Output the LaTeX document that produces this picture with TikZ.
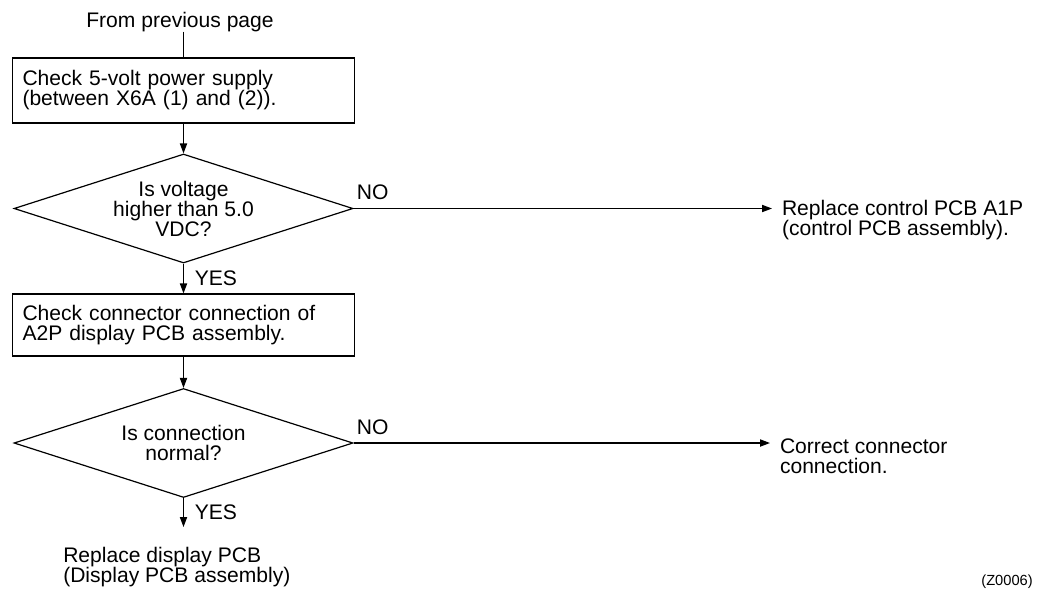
\documentclass[tikz,border=0pt]{standalone}
\usepackage{fontspec}
\setmainfont{Liberation Sans}
\usetikzlibrary{shapes.geometric, arrows.meta, positioning}

\begin{document}
\begin{tikzpicture}[
  x=0.75pt, y=-0.75pt,
  every node/.style={font=\fontsize{15.8pt}{15pt}\selectfont, inner sep=0pt},
  line/.style={line width=0.9pt},
  arrow/.style={line width=0.9pt, -{Triangle[length=7.5pt, width=5.4pt]}},
  stepbox/.style={rectangle, draw, line width=0.9pt, minimum width=256.5pt, text width=241.5pt, inner xsep=7.5pt, align=left},
  decision/.style={diamond, draw, line width=0.9pt, minimum width=254.25pt, minimum height=81.75pt, aspect=3.1, align=center},
  result/.style={align=left, anchor=west, outer xsep=7.5pt},
  nolbl/.style={anchor=south west, xshift=2pt, yshift=6pt},
  yeslbl/.style={anchor=west, xshift=8pt},
]
  \useasboundingbox (0,0) rectangle (1039,594);

  % Start
  \node[anchor=base] (from) at (180,27) {From previous page};

  % Checks and decisions
  \node[stepbox, minimum height=48.75pt] (check1) at (183.5,90.5) {Check 5-volt power supply\\(between X6A (1) and (2)).};
  \node[decision] (volt) at (183.5,208.5) {Is voltage\\higher than 5.0\\VDC?};
  \node[stepbox, minimum height=46.5pt] (check2) at (183.5,325) {Check connector connection of\\A2P display PCB assembly.};
  \node[decision] (conn) at (183.5,443) {Is connection\\normal?};

  % Results
  \node[result] (replctrl) at (772,220) {Replace control PCB A1P\\(control PCB assembly).};
  \node[result] (fixconn) at (770,456) {Correct connector\\connection.};
  \coordinate (yesend) at (183.5,527);
  \node[align=left, anchor=west] (repldisp) at (63,567.5) {Replace display PCB\\(Display PCB assembly)};
  \node[anchor=base east, font=\fontsize{11pt}{13pt}\selectfont] (code) at (1033,585) {(Z0006)};

  % Connectors
  \draw[line] (check1.north |- from.south) -- (check1.north);
  \draw[arrow] (check1) -- (volt);
  \draw[arrow] (volt) -- node[yeslbl]{YES} (check2);
  \draw[arrow] (volt.east) -- node[nolbl, pos=0]{NO} (volt.east -| replctrl.west);
  \draw[arrow] (check2) -- (conn);
  \draw[arrow] (conn.east) -- node[nolbl, pos=0]{NO} (conn.east -| fixconn.west);
  \draw[arrow] (conn) -- node[yeslbl]{YES} (yesend);
\end{tikzpicture}
\end{document}
